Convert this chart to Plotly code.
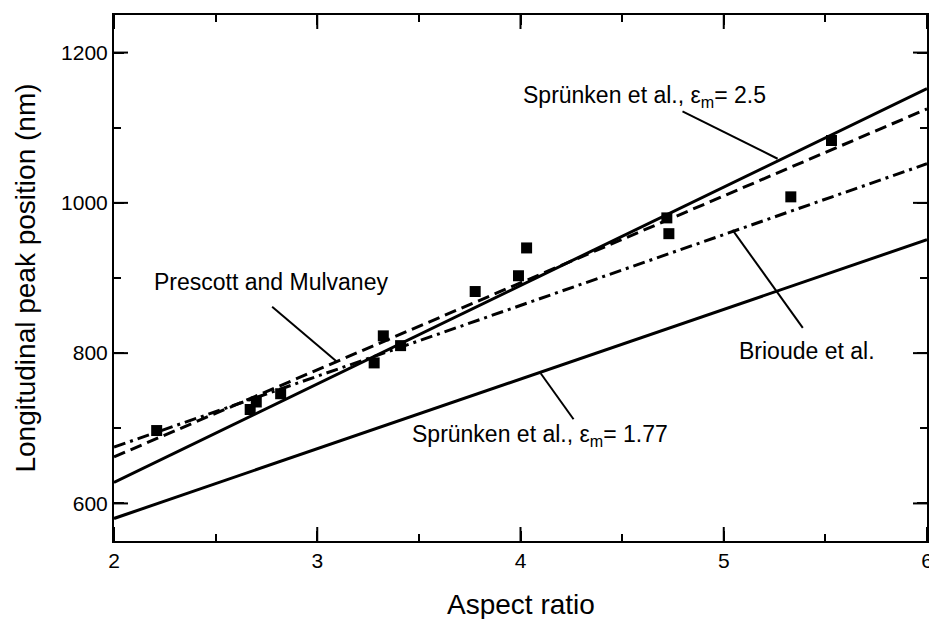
import plotly.graph_objects as go

# ---- data ----
line_x = [2, 6]
sprunken_25 = [628, 1152]      # Sprünken et al., eps_m = 2.5 (solid)
sprunken_177 = [580, 951]      # Sprünken et al., eps_m = 1.77 (solid)
prescott = [662, 1125]         # Prescott and Mulvaney (dashed)
brioude = [675, 1052]          # Brioude et al. (dash-dot)

exp_x = [2.21, 2.67, 2.70, 2.82, 3.28, 3.325, 3.41, 3.777, 3.99, 4.03, 4.72, 4.73, 5.33, 5.53]
exp_y = [697, 725, 735, 746, 787, 823, 810, 882, 903, 940, 980, 959, 1008, 1083]

x_ticks = [2, 3, 4, 5, 6]
x_minor = [2.5, 3.5, 4.5, 5.5]
y_ticks = [600, 800, 1000, 1200]
y_minor = [700, 900, 1100]
x_range = [2, 6]
y_range = [550, 1250]

FONT = "Liberation Sans, Arial, Helvetica, sans-serif"

fig = go.Figure()
lw = 3
fig.add_trace(go.Scatter(x=line_x, y=sprunken_25, mode="lines",
                         line=dict(color="black", width=lw), showlegend=False))
fig.add_trace(go.Scatter(x=line_x, y=sprunken_177, mode="lines",
                         line=dict(color="black", width=lw), showlegend=False))
fig.add_trace(go.Scatter(x=line_x, y=prescott, mode="lines",
                         line=dict(color="black", width=lw, dash="12px,6px"), showlegend=False))
fig.add_trace(go.Scatter(x=line_x, y=brioude, mode="lines",
                         line=dict(color="black", width=lw, dash="12px,5px,3px,5px"), showlegend=False))
fig.add_trace(go.Scatter(x=exp_x, y=exp_y, mode="markers",
                         marker=dict(symbol="square", size=11, color="black"), showlegend=False))

# major tick marks on all four sides, placed at the tick values on the frame (clipped to the plot area)
tick_marker = dict(size=20, color="black", line=dict(color="black", width=2))
for yv in y_range:
    fig.add_trace(go.Scatter(x=x_ticks, y=[yv] * len(x_ticks), mode="markers", cliponaxis=True,
                             marker=dict(symbol="line-ns-open", **tick_marker),
                             showlegend=False, hoverinfo="skip"))
for xv in x_range:
    fig.add_trace(go.Scatter(x=[xv] * len(y_ticks), y=y_ticks, mode="markers", cliponaxis=True,
                             marker=dict(symbol="line-ew-open", **tick_marker),
                             showlegend=False, hoverinfo="skip"))

# empty traces that carry the overlaid tick-mark axes
fig.add_trace(go.Scatter(x=[None], y=[None], xaxis="x2", yaxis="y2", mode="markers",
                         showlegend=False, hoverinfo="skip"))
fig.add_trace(go.Scatter(x=[None], y=[None], xaxis="x3", yaxis="y3", mode="markers",
                         showlegend=False, hoverinfo="skip"))

# annotation texts
ann = [
    ("Sprünken et al., ε<sub>m</sub>= 2.5", 4.0, 1141),
    ("Prescott and Mulvaney", 2.186, 895),
    ("Brioude et al.", 5.063, 803),
    ("Sprünken et al., ε<sub>m</sub>= 1.77", 3.458, 691),
]
for t, x, y in ann:
    fig.add_annotation(text=t, x=x, y=y, xref="x", yref="y", showarrow=False,
                       xanchor="left", yanchor="middle",
                       font=dict(family=FONT, size=23, color="black"))

# leader lines
leaders = [
    (4.797, 1121.7, 5.265, 1058.7),
    (2.778, 861.7, 3.097, 788.4),
    (5.389, 833.7, 5.043, 964.0),
    (4.261, 712.0, 4.099, 773.3),
]
for x0, y0, x1, y1 in leaders:
    fig.add_shape(type="line", x0=x0, y0=y0, x1=x1, y1=y1, xref="x", yref="y",
                  line=dict(color="black", width=2))

# axis titles as annotations (paper coords)
fig.add_annotation(text="Aspect ratio", x=0.5, y=-0.121, xref="paper", yref="paper",
                   showarrow=False, xanchor="center", yanchor="middle",
                   font=dict(family=FONT, size=28, color="black"))
fig.add_annotation(text="Longitudinal peak position (nm)", x=-0.110, y=0.5, xref="paper", yref="paper",
                   showarrow=False, xanchor="center", yanchor="middle", textangle=-90,
                   font=dict(family=FONT, size=28, color="black"))

axis_common = dict(
    showline=True, linecolor="black", linewidth=2, mirror="ticks",
    tickwidth=2, tickcolor="black",
    showgrid=False, zeroline=False, automargin=False,
    tickfont=dict(family=FONT, size=21, color="black"),
)

fig.update_layout(
    width=929, height=619,
    margin=dict(l=114, r=2, t=15, b=78),
    paper_bgcolor="white", plot_bgcolor="white",
    font=dict(family=FONT, color="black"),
    # main axes: tick labels
    xaxis=dict(range=x_range, tickmode="array", tickvals=x_ticks, ticks="",
               ticklabeloverflow="allow", **axis_common),
    yaxis=dict(range=y_range, tickmode="array", tickvals=y_ticks, ticks="",
               ticksuffix="\u00a0\u00a0\u00a0", **axis_common),
    # overlay: major tick marks
    xaxis2=dict(range=x_range, overlaying="x", side="bottom", anchor="y2",
                tickmode="array", tickvals=x_ticks, ticks="inside", ticklen=10,
                showticklabels=False, **axis_common),
    yaxis2=dict(range=y_range, overlaying="y", side="left", anchor="x2",
                tickmode="array", tickvals=y_ticks, ticks="inside", ticklen=10,
                showticklabels=False, **axis_common),
    # overlay: minor tick marks
    xaxis3=dict(range=x_range, overlaying="x", side="bottom", anchor="y3",
                tickmode="array", tickvals=x_minor, ticks="inside", ticklen=7,
                showticklabels=False, **axis_common),
    yaxis3=dict(range=y_range, overlaying="y", side="left", anchor="x3",
                tickmode="array", tickvals=y_minor, ticks="inside", ticklen=7,
                showticklabels=False, **axis_common),
)

# remove the page's default 8px body margin so the figure sits at the window origin
fig.write_html("out.html", config={"displayModeBar": False},
               post_script="document.body.style.margin='0';document.body.style.overflow='hidden';")
